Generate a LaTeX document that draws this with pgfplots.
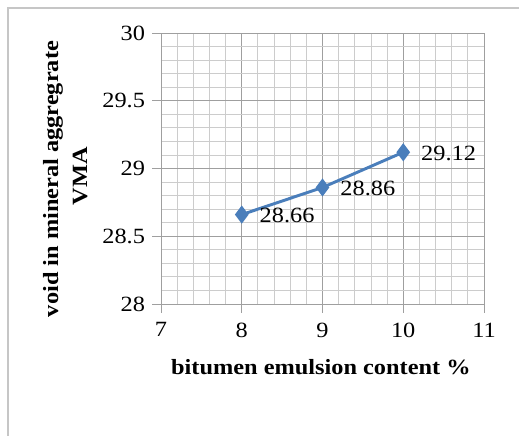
\documentclass[border=0pt]{standalone}
\usepackage{fontspec}
\setmainfont{Liberation Serif}[FakeStretch=1.12]
\usepackage{pgfplots}
\pgfplotsset{compat=1.18}
\definecolor{vmablue}{RGB}{74,126,187}

\begin{document}
\begin{tikzpicture}[x=0.75pt,y=0.75pt]
\useasboundingbox (0,0) rectangle (519,436);
% chart frame (right and bottom edges fall outside the picture)
\draw[gray!45, line width=1.2pt] (8,-20) rectangle (540,428);
\begin{axis}[
    at={(120.75pt,99pt)}, anchor=south west,
    scale only axis,
    width=242.25pt, height=203.25pt,
    xmin=7, xmax=11, ymin=28, ymax=30,
    xtick={7,8,9,10,11},
    ytick={28,28.5,29,29.5,30},
    minor x tick num=4, minor y tick num=4,
    grid=both,
    major grid style={gray!75, line width=0.7pt},
    minor grid style={gray!40, line width=0.6pt},
    axis line style={gray!75, line width=0.7pt},
    tick style={gray!75, line width=0.7pt},
    tick align=outside,
    major tick length=6.5pt, minor tick length=0pt,
    axis x line*=bottom, axis y line*=left,
    /pgf/number format/assume math mode=true,
    tick label style={font=\fontsize{16.3}{19}\selectfont, black},
    yticklabel style={xshift=-2pt},
    xticklabel style={yshift=-4pt},
    xlabel={bitumen emulsion content \%},
    label style={font=\bfseries\fontsize{16.3}{20}\selectfont},
    xlabel style={at={(axis description cs:0.495,-0.232)}, anchor=center},
]
\addplot[color=vmablue, line width=2.2pt, mark=diamond*, mark size=5pt,
    nodes near coords, point meta=explicit symbolic,
    every node near coord/.append style={anchor=west, xshift=9pt, yshift=-1pt,
        font=\fontsize{16.3}{19}\selectfont, black}]
    coordinates {
    (8,28.66)[28.66]
    (9,28.86)[28.86]
    (10,29.12)[29.12]
};
\end{axis}
% y label, two lines
\node[rotate=90, anchor=center, font=\bfseries\fontsize{16.3}{20}\selectfont]
    at (53,257) {void in mineral aggregrate};
\node[rotate=90, anchor=center, font=\bfseries\fontsize{16.3}{20}\selectfont]
    at (80,260) {VMA};
\end{tikzpicture}
\end{document}
